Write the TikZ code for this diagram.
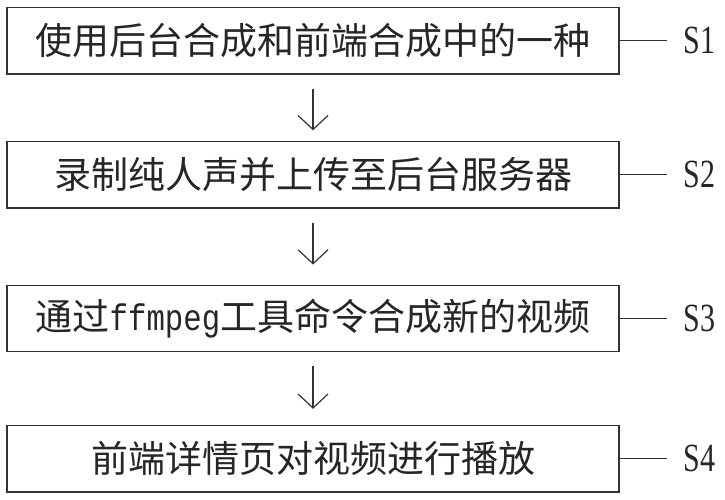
\documentclass[tikz,border=0pt]{standalone}
\usepackage{fontspec}
\setmainfont{Liberation Serif}
\newfontfamily\cjk{Noto Sans CJK SC}
\newfontfamily\labfont[FakeStretch=0.75]{Liberation Serif}
\newfontfamily\asciifont[FakeStretch=0.83]{Liberation Mono}
\usetikzlibrary{arrows.meta}
\tikzset{
  stepbox/.style={draw=black!80, line width=1.4pt, minimum width=612pt, minimum height=66.5pt, inner sep=0pt, text=black!85, font=\cjk\fontsize{37}{40}\selectfont},
  flowarrow/.style={draw=black!80, line width=1.2pt, -{Straight Barb[length=14pt,width=30pt,line width=1.2pt]}},
  leader/.style={draw=black!80, line width=1.2pt},
  steplabel/.style={anchor=west, inner sep=0pt, font=\labfont\fontsize{40}{44}\selectfont, text=black!85}
}
\begin{document}
\begin{tikzpicture}[x=1pt,y=-1pt]
\useasboundingbox (0,0) rectangle (725,500);
\node[stepbox] (b1) at (313,40.75) {使用后台合成和前端合成中的一种};
\node[stepbox] (b2) at (313,174.75) {录制纯人声并上传至后台服务器};
\node[stepbox] (b3) at (313,318.5) {通过{\asciifont ffmpeg}工具命令合成新的视频};
\node[stepbox] (b4) at (313,458.75) {前端详情页对视频进行播放};
\foreach \i/\lbl in {1/S1,2/S2,3/S3,4/S4}{
  \coordinate (e\i) at ([xshift=47pt]b\i.east);
  \draw[leader] (b\i.east) -- (e\i);
  \node[steplabel] (s\i) at ([xshift=17pt]e\i) {\lbl};
}
\draw[flowarrow, shorten <=14pt, shorten >=10.5pt] (b1.south) -- (b2.north);
\draw[flowarrow, shorten <=14pt, shorten >=20pt] (b2.south) -- (b3.north);
\draw[flowarrow, shorten <=14pt, shorten >=16pt] (b3.south) -- (b4.north);
\end{tikzpicture}
\end{document}
